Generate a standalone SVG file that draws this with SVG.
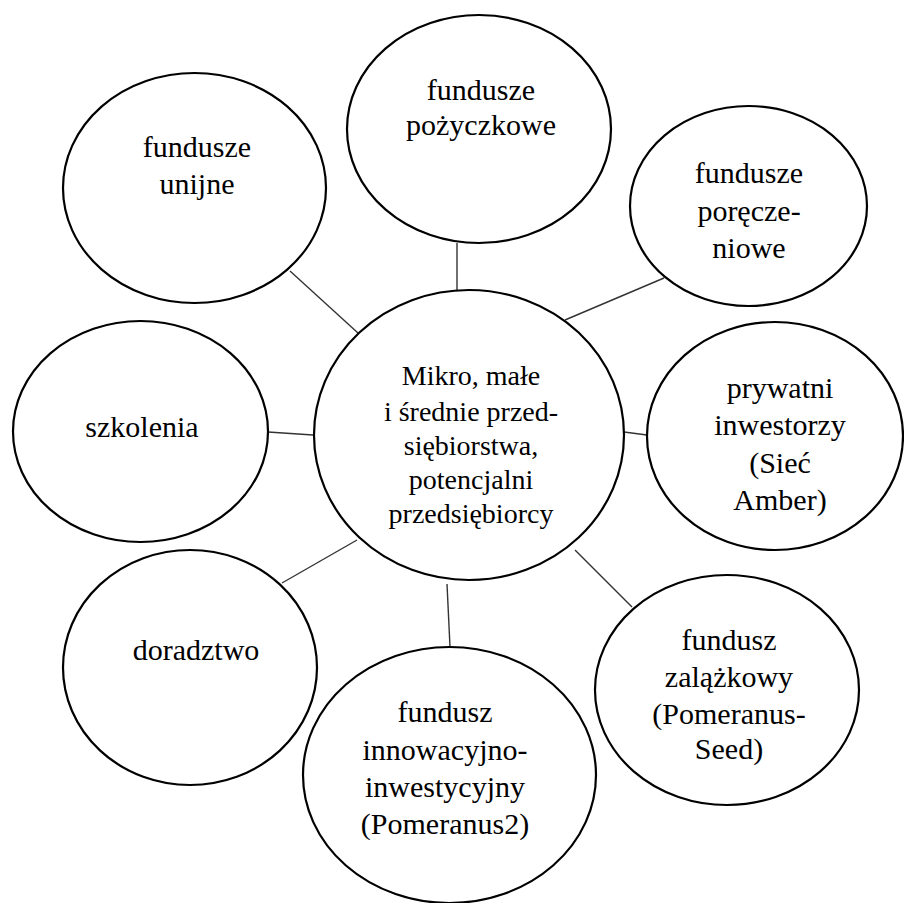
<svg xmlns="http://www.w3.org/2000/svg" width="904" height="903" viewBox="0 0 904 903">
<defs>
<style>
.node ellipse{fill:#fff;stroke:#000;stroke-width:2.2}
.conn line{stroke:#333;stroke-width:1.4}
svg text.t{font-family:'Liberation Serif','Times New Roman',serif !important;font-size:30px;text-anchor:middle;fill:#000}
svg text.t.c{font-size:28px}
</style>
</defs>
<rect width="904" height="903" fill="#fff"/>
<g id="connectors" class="conn">
<line x1="457" y1="243" x2="457" y2="292"/>
<line x1="565" y1="320" x2="664" y2="278"/>
<line x1="624" y1="432" x2="647" y2="435"/>
<line x1="575" y1="550" x2="632" y2="607"/>
<line x1="447" y1="584" x2="450" y2="647"/>
<line x1="357" y1="540" x2="282" y2="583"/>
<line x1="268" y1="432" x2="313" y2="435"/>
<line x1="290" y1="271" x2="358" y2="333"/>
</g>
<g id="center" class="node">
<ellipse cx="469" cy="435" rx="155" ry="145"/>
<text class="t c" style="font-family:'Liberation Serif',serif !important" x="471" y="385">Mikro, małe</text>
<text class="t c" style="font-family:'Liberation Serif',serif !important" x="471" y="421">i średnie przed-</text>
<text class="t c" style="font-family:'Liberation Serif',serif !important" x="471" y="455">siębiorstwa,</text>
<text class="t c" style="font-family:'Liberation Serif',serif !important" x="471" y="489">potencjalni</text>
<text class="t c" style="font-family:'Liberation Serif',serif !important" x="471" y="523">przedsiębiorcy</text>
</g>
<g id="pozyczkowe" class="node">
<ellipse cx="479" cy="129" rx="132" ry="114"/>
<text class="t" style="font-family:'Liberation Serif',serif !important" x="481" y="100">fundusze</text>
<text class="t" style="font-family:'Liberation Serif',serif !important" x="481" y="135">pożyczkowe</text>
</g>
<g id="unijne" class="node">
<ellipse cx="194.5" cy="188" rx="131.5" ry="115"/>
<text class="t" style="font-family:'Liberation Serif',serif !important" x="197" y="157">fundusze</text>
<text class="t" style="font-family:'Liberation Serif',serif !important" x="197" y="194">unijne</text>
</g>
<g id="poreczeniowe" class="node">
<ellipse cx="748.5" cy="206" rx="118.5" ry="100"/>
<text class="t" style="font-family:'Liberation Serif',serif !important" x="749" y="183">fundusze</text>
<text class="t" style="font-family:'Liberation Serif',serif !important" x="749" y="221">poręcze-</text>
<text class="t" style="font-family:'Liberation Serif',serif !important" x="749" y="258">niowe</text>
</g>
<g id="prywatni" class="node">
<ellipse cx="775" cy="436" rx="128" ry="114"/>
<text class="t" style="font-family:'Liberation Serif',serif !important" x="780" y="398">prywatni</text>
<text class="t" style="font-family:'Liberation Serif',serif !important" x="780" y="435">inwestorzy</text>
<text class="t" style="font-family:'Liberation Serif',serif !important" x="780" y="473">(Sieć</text>
<text class="t" style="font-family:'Liberation Serif',serif !important" x="780" y="510">Amber)</text>
</g>
<g id="szkolenia" class="node">
<ellipse cx="140.5" cy="431.5" rx="127.5" ry="110.5"/>
<text class="t" style="font-family:'Liberation Serif',serif !important" x="142" y="437">szkolenia</text>
</g>
<g id="doradztwo" class="node">
<ellipse cx="190" cy="667.5" rx="127" ry="117.5"/>
<text class="t" style="font-family:'Liberation Serif',serif !important" x="196" y="660">doradztwo</text>
</g>
<g id="innowacyjny" class="node">
<ellipse cx="449.5" cy="775" rx="146.5" ry="128"/>
<text class="t" style="font-family:'Liberation Serif',serif !important" x="445" y="722">fundusz</text>
<text class="t" style="font-family:'Liberation Serif',serif !important" x="445" y="760">innowacyjno-</text>
<text class="t" style="font-family:'Liberation Serif',serif !important" x="445" y="797">inwestycyjny</text>
<text class="t" style="font-family:'Liberation Serif',serif !important" x="445" y="834">(Pomeranus2)</text>
</g>
<g id="zalazkowy" class="node">
<ellipse cx="727" cy="690" rx="132" ry="115"/>
<text class="t" style="font-family:'Liberation Serif',serif !important" x="729" y="650">fundusz</text>
<text class="t" style="font-family:'Liberation Serif',serif !important" x="729" y="687">zalążkowy</text>
<text class="t" style="font-family:'Liberation Serif',serif !important" x="729" y="724">(Pomeranus-</text>
<text class="t" style="font-family:'Liberation Serif',serif !important" x="729" y="759">Seed)</text>
</g>
</svg>
